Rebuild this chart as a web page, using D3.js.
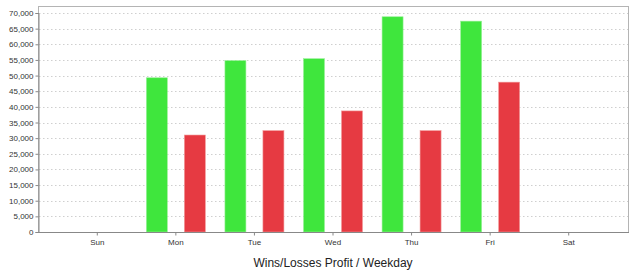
<!DOCTYPE html>
<html>
<head>
<meta charset="utf-8">
<script src="https://cdn.jsdelivr.net/npm/d3@7"></script>
<style>
  body { margin: 0; background: #fff; }
  svg { display: block; font-family: "Liberation Sans", Arial, sans-serif; }
</style>
</head>
<body>
<svg></svg>
<script>
var days = ["Sun", "Mon", "Tue", "Wed", "Thu", "Fri", "Sat"];
var wins = [0, 49300, 54800, 55400, 68800, 67400, 0];
var losses = [0, 31000, 32400, 38700, 32400, 47900, 0];
var yTicks = d3.range(0, 70001, 5000);

var svgWidth = 636, svgHeight = 276;
var plot = {left: 38, top: 6, right: 628, bottom: 232};

var svg = d3.select("svg").attr("width", svgWidth).attr("height", svgHeight);

var yScale = d3.scaleLinear().domain([0, 70000]).range([plot.bottom, 13]);
var xScale = d3.scaleBand().domain(days).range([plot.left + 20, plot.right - 20]);

// plot frame
svg.append("rect")
    .attr("x", plot.left + 0.5).attr("y", plot.top + 0.5)
    .attr("width", plot.right - plot.left).attr("height", plot.bottom - plot.top)
    .attr("fill", "#fff").attr("stroke", "#b4b4b4");

// gridlines
svg.append("g")
    .selectAll("line")
    .data(yTicks.filter(function(d){ return d > 0; }))
    .enter().append("line")
    .attr("x1", plot.left + 1).attr("x2", plot.right)
    .attr("y1", function(d){ return Math.round(yScale(d)) + 0.5; })
    .attr("y2", function(d){ return Math.round(yScale(d)) + 0.5; })
    .attr("stroke", "#cfcfcf")
    .attr("stroke-dasharray", "1.5,2.5");

// bars
var offset = 19, barW = 21;
var g = svg.append("g");
g.selectAll(".win").data(days).enter().append("rect")
    .attr("class", "win")
    .attr("x", function(d, i){ return xScale(d) + xScale.bandwidth()/2 - offset - barW/2; })
    .attr("y", function(d, i){ return yScale(wins[i]); })
    .attr("width", barW)
    .attr("height", function(d, i){ return yScale(0) - yScale(wins[i]); })
    .attr("fill", "#3fe63d")
    .attr("stroke", "#9af09a").attr("stroke-width", 0.6);
g.selectAll(".loss").data(days).enter().append("rect")
    .attr("class", "loss")
    .attr("x", function(d, i){ return xScale(d) + xScale.bandwidth()/2 + offset - barW/2; })
    .attr("y", function(d, i){ return yScale(losses[i]); })
    .attr("width", barW)
    .attr("height", function(d, i){ return yScale(0) - yScale(losses[i]); })
    .attr("fill", "#e63a42")
    .attr("stroke", "#f29a9a").attr("stroke-width", 0.6);

// y axis
var yAxis = d3.axisLeft(yScale).tickValues(yTicks).tickFormat(d3.format(",")).tickSize(3).tickPadding(2);
var ya = svg.append("g")
    .attr("transform", "translate(" + (plot.left + 0.5) + ",0)")
    .call(yAxis);
ya.select(".domain").attr("stroke", "#888");
ya.selectAll(".tick line").attr("stroke", "#888");
ya.selectAll("text").attr("font-size", 8).attr("fill", "#333").attr("font-family", "Liberation Sans, Arial, sans-serif");

// x axis
var xAxis = d3.axisBottom(xScale).tickSize(3).tickPadding(4).tickSizeOuter(0);
var xa = svg.append("g")
    .attr("transform", "translate(0," + (plot.bottom + 0.5) + ")")
    .call(xAxis);
xa.select(".domain").attr("d", "M" + plot.left + ",0H" + (plot.right + 1)).attr("stroke", "#888");
xa.selectAll(".tick line").attr("stroke", "#888");
xa.selectAll("text").attr("font-size", 8).attr("fill", "#333").attr("font-family", "Liberation Sans, Arial, sans-serif");

// title
svg.append("text")
    .text("Wins/Losses Profit / Weekday")
    .attr("x", (plot.left + plot.right) / 2)
    .attr("y", 267)
    .attr("text-anchor", "middle")
    .attr("font-size", 12)
    .attr("fill", "#222");
</script>
</body>
</html>
